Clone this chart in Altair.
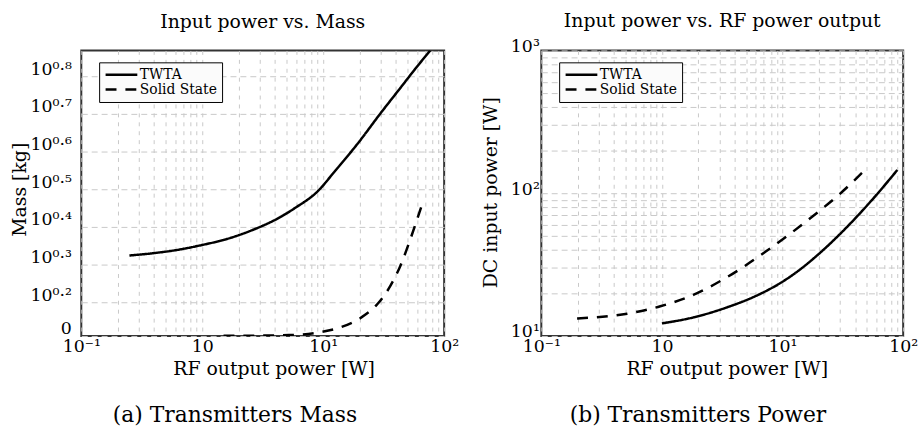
import altair as alt
import pandas as pd

FONT = "DejaVu Serif"

series_names = ["TWTA", "Solid State"]

# ---- Panel (a): Transmitters Mass ----
mass_twta_x = [0.25, 0.39, 0.6, 1.0, 1.6, 2.57, 4.53, 5.78, 9.1, 12.3, 19.4, 29.9, 43.8, 55.7, 76.7]
mass_twta_y = [2.109, 2.138, 2.178, 2.249, 2.333, 2.460, 2.679, 2.812, 3.133, 3.508, 4.188, 5.035, 5.888, 6.501, 7.379]
mass_ss_x = [1.5, 5.2, 9.6, 14.0, 20.5, 28.2, 36.0, 43.5, 52.5, 64.5]
mass_ss_y = [1.291, 1.297, 1.321, 1.361, 1.442, 1.570, 1.754, 1.982, 2.328, 2.831]

# ---- Panel (b): Transmitters Power ----
power_twta_x = [1.0, 1.82, 3.42, 6.43, 9.38, 12.1, 20.0, 31.0, 54.8, 89.5]
power_twta_y = [12.25, 13.49, 15.81, 19.59, 23.23, 26.73, 37.58, 53.33, 89.13, 145.5]
power_ss_x = [0.198, 0.515, 0.97, 1.94, 3.42, 7.3, 20.0, 29.0, 48.9]
power_ss_y = [13.27, 14.32, 16.14, 19.86, 25.64, 39.17, 74.64, 96.8, 147.2]

# ---- Axes ----
x_domain = [0.1, 100]
x_grid_values = [0.1, 0.2, 0.3, 0.4, 0.5, 0.6, 0.7, 0.8, 0.9,
                 1, 2, 3, 4, 5, 6, 7, 8, 9,
                 10, 20, 30, 40, 50, 60, 70, 80, 90, 100]
x_label_keys = [-100, 0, 100, 200]
x_label_texts = ["10⁻¹", "10", "10¹", "10²"]

mass_y_domain = [1.290, 7.379]
mass_y_values = [1.290, 1.585, 1.995, 2.512, 3.162, 3.981, 5.012, 6.310]
mass_y_label_keys = [11, 20, 30, 40, 50, 60, 70, 80]
mass_y_label_texts = ["0", "10⁰·²", "10⁰·³", "10⁰·⁴", "10⁰·⁵", "10⁰·⁶", "10⁰·⁷", "10⁰·⁸"]

power_y_domain = [10, 1000]
power_y_values = [10, 20, 30, 40, 50, 60, 70, 80, 90,
                  100, 200, 300, 400, 500, 600, 700, 800, 900, 1000]
power_y_label_keys = [100, 200, 300]
power_y_label_texts = ["10¹", "10²", "10³"]

titles = ["Input power vs. Mass", "Input power vs. RF power output"]
captions = ["(a) Transmitters Mass", "(b) Transmitters Power"]
y_titles = ["Mass [kg]", "DC input power [W]"]
x_title = "RF output power [W]"


def label_expr(keys, texts):
    parts = [f"round(log(datum.value)/LN10*100) == {k} ? '{t}' : " for k, t in zip(keys, texts)]
    return "".join(parts) + "''"


def make_df(xa, ya, xb, yb):
    rows = []
    for i, (x, y) in enumerate(zip(xa, ya)):
        rows.append({"x": x, "y": y, "series": series_names[0], "order": i})
    for i, (x, y) in enumerate(zip(xb, yb)):
        rows.append({"x": x, "y": y, "series": series_names[1], "order": i})
    return pd.DataFrame(rows)


def panel(df, width, y_domain, y_values, y_keys, y_texts, y_title, title, caption,
          cap_x, y_label_offset, y_label_pad, y_title_pad, x_title_x, y_title_y, title_offset):
    legend = alt.Legend(
        title=None, orient="none", legendX=18, legendY=12,
        symbolType="stroke", symbolSize=1024, symbolStrokeWidth=2.5,
        symbolStrokeColor="black", labelFont=FONT, labelFontSize=14,
        labelColor="black", labelOffset=1, padding=5, rowPadding=-2,
        clipHeight=15, fillColor="#fbfbfb", strokeColor="black",
    )
    lines = alt.Chart(df).mark_line(color="black", strokeWidth=2.5, clip=True,
                                    interpolate="monotone").encode(
        x=alt.X("x:Q", scale=alt.Scale(type="log", domain=x_domain),
                axis=alt.Axis(values=x_grid_values,
                              labelExpr=label_expr(x_label_keys, x_label_texts),
                              title=x_title, labelPadding=2, titlePadding=4,
                              titleX=x_title_x, gridDash=[4, 5])),
        y=alt.Y("y:Q", scale=alt.Scale(type="log", domain=y_domain),
                axis=alt.Axis(values=y_values,
                              labelExpr=label_expr(y_keys, y_texts),
                              title=y_title, labelPadding=y_label_pad,
                              labelOffset=y_label_offset, titlePadding=y_title_pad,
                              titleY=y_title_y, gridDash=[6, 4])),
        strokeDash=alt.StrokeDash("series:N",
                                  scale=alt.Scale(domain=series_names, range=[[1, 0], [11, 9]]),
                                  legend=legend),
        detail="series:N",
        order="order:Q",
    )
    cap = alt.Chart(pd.DataFrame({"t": [caption]})).mark_text(
        font=FONT, fontSize=22, baseline="middle", align="center", color="black"
    ).encode(text="t:N", x=alt.value(cap_x), y=alt.value(368))
    return alt.layer(lines, cap).properties(
        width=width, height=288,
        title=alt.TitleParams(title, font=FONT, fontSize=19, fontWeight="normal",
                              anchor="middle", offset=title_offset, color="black"),
    )


left = panel(make_df(mass_twta_x, mass_twta_y, mass_ss_x, mass_ss_y), 366,
             mass_y_domain, mass_y_values, mass_y_label_keys, mass_y_label_texts,
             y_titles[0], titles[0], captions[0], 155, -7, 10, 0, 194, 140, 19)
right = panel(make_df(power_twta_x, power_twta_y, power_ss_x, power_ss_y), 365,
              power_y_domain, power_y_values, power_y_label_keys, power_y_label_texts,
              y_titles[1], titles[1], captions[1], 158, -4, 2, 10, 187, 143, 7)

chart = alt.hconcat(left, right, spacing=98, bounds="flush").resolve_scale(
    strokeDash="independent"
).resolve_legend(strokeDash="independent").properties(
    padding={"left": 10, "top": 9, "right": 5, "bottom": 5}
).configure_axis(
    labelFont=FONT, titleFont=FONT, labelFontSize=17.5, titleFontSize=19,
    titleFontWeight="normal", labelColor="black", titleColor="black",
    gridColor="#c8c8c8", gridWidth=1, ticks=False, domain=False,
    labelOverlap=False, labelFlush=False,
).configure_legend(
    labelFont=FONT, labelFontSize=14, labelColor="black"
).configure_view(stroke="#333333", strokeWidth=2)

chart.save("out.html", embed_options={"renderer": "svg", "actions": False})
